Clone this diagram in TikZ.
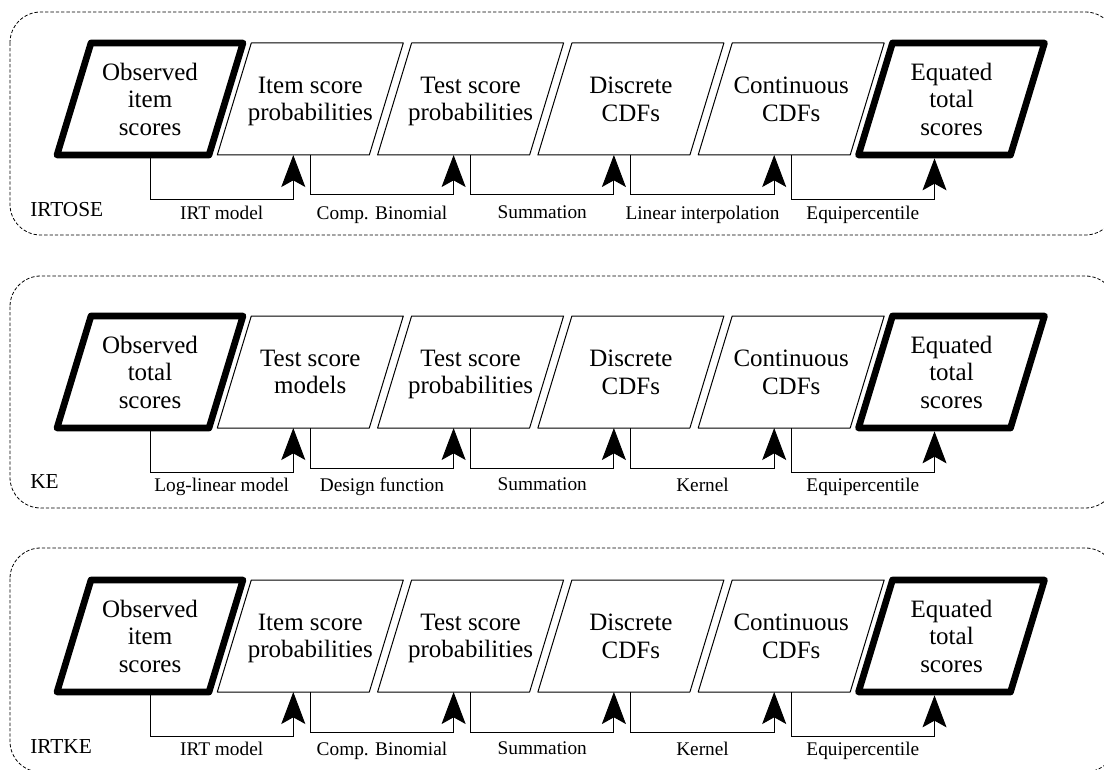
\documentclass[tikz,border=0pt]{standalone}
\usepackage{fontspec}
\setmainfont{Liberation Serif}
\usetikzlibrary{arrows.meta}

\tikzset{
  stage/.style={rectangle, inner sep=0pt, outer sep=0pt,
    minimum width=114pt, minimum height=84pt, align=center, text depth=0pt,
    font=\fontsize{18.75pt}{20.6pt}\selectfont,
    append after command={\pgfextra{\draw[line width=#1, line join=round]
      ([xshift=-12.75pt]\tikzlastnode.south west) -- ([xshift=-12.75pt]\tikzlastnode.south east)
      -- ([xshift=12.75pt]\tikzlastnode.north east) -- ([xshift=12.75pt]\tikzlastnode.north west)
      -- cycle;}}},
  stage/.default=0.75pt,
  dataend/.style={stage=5pt},
  link/.style={draw, line width=0.75pt, -{Stealth[length=24pt, width=18pt, inset=5pt]}},
  linklabel/.style={below, inner sep=4pt, font=\fontsize{14.5pt}{16pt}\selectfont},
  panel/.style={draw, dash pattern=on 2.5pt off 1.5pt, line width=0.6pt, rounded corners=23pt},
  panelname/.style={anchor=base west, inner sep=0pt, font=\fontsize{16pt}{18pt}\selectfont}
}

\begin{document}
\begin{tikzpicture}[x=0.75pt, y=-0.75pt]
  \useasboundingbox (0,0) rectangle (1104,770);

  % IRTOSE
  \draw[panel] (10,12) rectangle (1116,235);
  \node[panelname] (irtosename) at (30,217) {IRTOSE};
  \foreach \i/\s/\txt in {1/dataend/{Observed\\item\\scores}, 2/stage/{Item score\\probabilities},
      3/stage/{Test score\\probabilities}, 4/stage/{Discrete\\CDFs},
      5/stage/{Continuous\\CDFs}, 6/dataend/{Equated\\total\\scores}}
    \node[\s] (irtose\i) at ({150+160.3*(\i-1)},99) {\txt};
  \foreach \a/\b/\d/\g/\txt in {1/2/45/0/IRT model, 2/3/40/0/Comp. Binomial, 3/4/40/0/Summation,
      4/5/40/0/Linear interpolation, 5/6/45/2.5/Equipercentile}
    \draw[link, shorten >=\g pt] (irtose\a.south) -- ++(0,\d) -| ([xshift=-12.75pt]irtose\b.south)
      node[linklabel, pos=0.25, yshift={(\d-45)*0.75pt}] {\txt};

  % KE
  \draw[panel] (10,276) rectangle (1116,508);
  \node[panelname] (kename) at (30,488) {KE};
  \foreach \i/\s/\txt in {1/dataend/{Observed\\total\\scores}, 2/stage/{Test score\\models},
      3/stage/{Test score\\probabilities}, 4/stage/{Discrete\\CDFs},
      5/stage/{Continuous\\CDFs}, 6/dataend/{Equated\\total\\scores}}
    \node[\s] (ke\i) at ({150+160.3*(\i-1)},372) {\txt};
  \foreach \a/\b/\d/\g/\txt in {1/2/44/0/Log-linear model, 2/3/40/0/Design function, 3/4/40/0/Summation,
      4/5/40/0/Kernel, 5/6/44/2.5/Equipercentile}
    \draw[link, shorten >=\g pt] (ke\a.south) -- ++(0,\d) -| ([xshift=-12.75pt]ke\b.south)
      node[linklabel, pos=0.25, yshift={(\d-44)*0.75pt}] {\txt};

  % IRTKE
  \draw[panel] (10,548) rectangle (1116,772);
  \node[panelname] (irtkename) at (30,753) {IRTKE};
  \foreach \i/\s/\txt in {1/dataend/{Observed\\item\\scores}, 2/stage/{Item score\\probabilities},
      3/stage/{Test score\\probabilities}, 4/stage/{Discrete\\CDFs},
      5/stage/{Continuous\\CDFs}, 6/dataend/{Equated\\total\\scores}}
    \node[\s] (irtke\i) at ({150+160.3*(\i-1)},636) {\txt};
  \foreach \a/\b/\d/\g/\txt in {1/2/44/0/IRT model, 2/3/40/0/Comp. Binomial, 3/4/40/0/Summation,
      4/5/40/0/Kernel, 5/6/44/2.5/Equipercentile}
    \draw[link, shorten >=\g pt] (irtke\a.south) -- ++(0,\d) -| ([xshift=-12.75pt]irtke\b.south)
      node[linklabel, pos=0.25, yshift={(\d-44)*0.75pt}] {\txt};
\end{tikzpicture}
\end{document}
